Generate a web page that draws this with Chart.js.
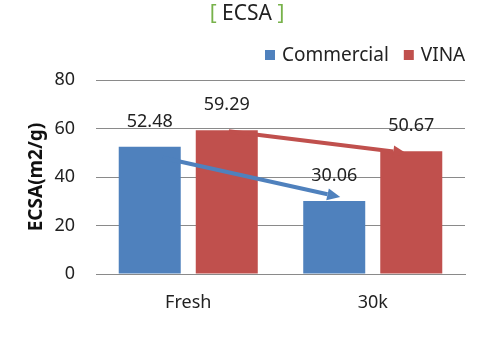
<!DOCTYPE html>
<html>
<head>
<meta charset="utf-8">
<script src="https://cdn.jsdelivr.net/npm/chart.js@4.4.1/dist/chart.umd.min.js"></script>
<style>
  html, body { margin: 0; padding: 0; background: #fff; }
  #wrap { width: 496px; height: 341px; }
</style>
</head>
<body>
<div id="wrap"><canvas id="c" width="496" height="341"></canvas></div>
<script>
// ECSA before / after 30k cycles
const categories = ['Fresh', '30k'];
const commercial = [52.48, 30.06];
const vina = [59.29, 50.67];
const seriesNames = ['Commercial', 'VINA'];
const yTicks = [0, 20, 40, 60, 80];

const FONT = "'Noto Sans', sans-serif";
const BLUE = '#4F81BD';
const RED = '#C0504D';

// title "[ ECSA ]" with green brackets + legend on the right
const headerPlugin = {
    id: 'header',
    afterDraw(chart) {
        const ctx = chart.ctx;
        ctx.save();
        ctx.font = `21px ${FONT}`;
        ctx.textBaseline = 'middle';
        const parts = [['[ ', '#77B24A'], ['ECSA', '#222'], [' ]', '#77B24A']];
        const total = parts.reduce((w, p) => w + ctx.measureText(p[0]).width, 0);
        let x = 247 - total / 2;
        parts.forEach(([t, c]) => { ctx.fillStyle = c; ctx.textAlign = 'left'; ctx.fillText(t, x, 14); x += ctx.measureText(t).width; });

        // legend
        ctx.font = `19px ${FONT}`;
        let lx = 265;
        chart.data.datasets.forEach(ds => {
            ctx.fillStyle = ds.backgroundColor;
            ctx.fillRect(lx, 50, 10, 10);
            ctx.fillStyle = '#222';
            ctx.fillText(ds.label, lx + 17, 56);
            lx += 17 + ctx.measureText(ds.label).width + 15;
        });
        ctx.restore();
    }
};

// value labels above the bars
const valueLabels = {
    id: 'valueLabels',
    afterDatasetsDraw(chart) {
        const ctx = chart.ctx;
        ctx.save();
        ctx.font = `18px ${FONT}`;
        ctx.fillStyle = '#222';
        ctx.textAlign = 'center';
        ctx.textBaseline = 'middle';
        chart.data.datasets.forEach((ds, i) => {
            chart.getDatasetMeta(i).data.forEach((bar, j) => {
                ctx.fillText(ds.data[j].toFixed(2), bar.x, bar.y - 25);
            });
        });
        ctx.restore();
    }
};

// trend arrows Fresh -> 30k for each series
const arrows = {
    id: 'arrows',
    afterDatasetsDraw(chart) {
        const ctx = chart.ctx;
        const offs = [
            { dx0: 13, dy0: 11, dx1: 6, dy1: -4 },
            { dx0: 2, dy0: 1, dx1: -5, dy1: 2 }
        ];
        chart.data.datasets.forEach((ds, i) => {
            const bars = chart.getDatasetMeta(i).data;
            const o = offs[i];
            const x0 = bars[0].x + o.dx0, y0 = bars[0].y + o.dy0;
            const x1 = bars[1].x + o.dx1, y1 = bars[1].y + o.dy1;
            const ang = Math.atan2(y1 - y0, x1 - x0);
            const hl = 13, hw = 6;
            const bx = x1 - hl * Math.cos(ang), by = y1 - hl * Math.sin(ang);
            ctx.save();
            ctx.strokeStyle = ds.backgroundColor;
            ctx.fillStyle = ds.backgroundColor;
            ctx.lineWidth = 4;
            ctx.beginPath();
            ctx.moveTo(x0, y0);
            ctx.lineTo(bx, by);
            ctx.stroke();
            ctx.beginPath();
            ctx.moveTo(x1, y1);
            ctx.lineTo(bx + hw * Math.sin(ang), by - hw * Math.cos(ang));
            ctx.lineTo(bx - hw * Math.sin(ang), by + hw * Math.cos(ang));
            ctx.closePath();
            ctx.fill();
            ctx.restore();
        });
    }
};

new Chart(document.getElementById('c'), {
    type: 'bar',
    data: {
        labels: categories,
        datasets: [
            { label: seriesNames[0], data: commercial, backgroundColor: BLUE },
            { label: seriesNames[1], data: vina, backgroundColor: RED }
        ]
    },
    options: {
        responsive: false,
        animation: false,
        events: [],
        layout: { padding: { top: 80, right: 31, left: 0, bottom: 0 } },
        categoryPercentage: 0.835,
        barPercentage: 0.805,
        plugins: { legend: { display: false }, title: { display: false }, tooltip: { enabled: false } },
        scales: {
            x: {
                grid: { display: false, drawTicks: false },
                border: { color: '#8a8a8a', width: 1 },
                ticks: { color: '#222', font: { family: FONT, size: 18 }, padding: 18 },
                afterFit(s) { s.height = 67; }
            },
            y: {
                min: 0, max: 80,
                afterBuildTicks(s) { s.ticks = yTicks.map(v => ({ value: v })); },
                grid: { color: '#8a8a8a', drawTicks: false },
                border: { display: false },
                ticks: { color: '#222', font: { family: FONT, size: 18 }, padding: 21 },
                title: { display: true, text: 'ECSA(m2/g)', color: '#111', font: { family: FONT, size: 19, weight: 'bold' }, padding: { top: 25, bottom: 0 } },
                afterFit(s) { s.width = 96; }
            }
        }
    },
    plugins: [headerPlugin, valueLabels, arrows]
});
</script>
</body>
</html>
